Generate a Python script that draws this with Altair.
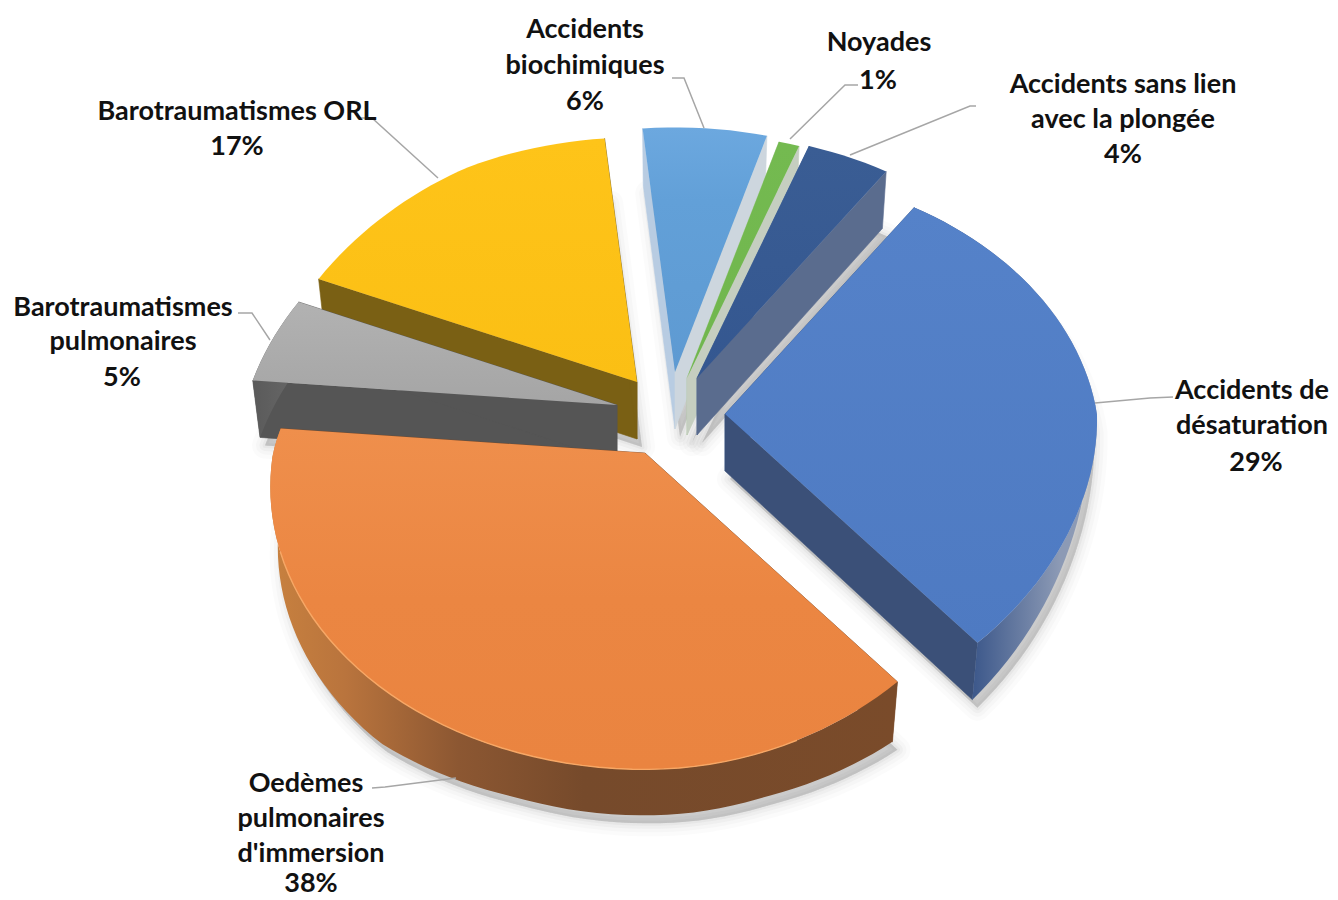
import math
import altair as alt
import pandas as pd

# ---- chart values
categories = ["Accidents sans lien avec la plongée", "Accidents de désaturation",
              "Oedèmes pulmonaires d'immersion", "Barotraumatismes pulmonaires",
              "Barotraumatismes ORL", "Accidents biochimiques", "Noyades"]
shares = [4, 29, 38, 5, 17, 6, 1]   # percent, clockwise
label_lines = [
    ["Accidents sans lien", "avec la plongée", "4%"],
    ["Accidents de", "désaturation", "29%"],
    ["Oedèmes", "pulmonaires", "d'immersion", "38%"],
    ["Barotraumatismes", "pulmonaires", "5%"],
    ["Barotraumatismes ORL", "17%"],
    ["Accidents", "biochimiques", "6%"],
    ["Noyades", "1%"],
]

# ---- layout and style (image pixels)
W, H = 1322, 892
START = 70.4          # clockwise start angle of the first slice
RX, RY, K = 372, 274, 0.12
DEPTH = 57
apex = {0: (697, 378), 1: (725, 414), 2: (645, 453), 3: (617, 405), 4: (637, 382), 5: (675, 372), 6: (687, 378)}
label_pos = {
    0: [(1123, 85), (1123, 120), (1123, 155)],
    1: [(1252, 391), (1252, 426), (1256, 463)],
    2: [(306, 784), (311, 819), (311, 854), (311, 884)],
    3: [(123, 308), (123, 342), (122, 378)],
    4: [(237, 112), (237, 147)],
    5: [(585, 30), (585, 66), (585, 102)],
    6: [(879, 43), (878, 81)],
}
leaders = {
    0: [(850, 155), (970, 106), (976, 106)],
    1: [(1095, 403), (1150, 398), (1173, 397)],
    2: [(456, 778), (385, 787), (372, 788)],
    3: [(270, 340), (252, 313), (238, 313)],
    4: [(438, 178), (372, 118), (360, 118)],
    5: [(704, 128), (684, 78), (672, 78)],
    6: [(790, 139), (845, 85), (858, 85)],
}
top_fill = {
    0: [(0, "#3A5D94"), (1, "#345790")],
    1: [(0, "#5582C9"), (1, "#4E7AC2")],
    2: [(0, "#EF8F4C"), (0.5, "#EB8642"), (1, "#EA8440")],
    3: [(0, "#B2B2B2"), (1, "#A5A5A5")],
    4: [(0, "#FEC419"), (1, "#FBBF14")],
    5: [(0, "#6CA8DF"), (0.3, "#62A0D8"), (1, "#5E9AD2")],
    6: [(0, "#74BA50"), (1, "#70B64E")],
}
start_wall = {0: "#3A5C92", 1: "#3A5C92", 2: "#7A4A28", 3: "#555555", 4: "#7A6014", 5: "#B8CCE2", 6: "#A6CB96"}
end_wall = {0: "#5A6C8E", 1: "#3B5078", 2: "#7A4A28", 3: "#555555", 4: "#7A6014", 5: "#CDD6DE", 6: "#C5CEC0"}
rim = {
    1: [(0, "#2F4C80"), (0.35, "#3F5A8C"), (0.8, "#8C9AB5"), (1, "#8C9AB5")],
    2: [(0, "#C8813F"), (0.12, "#B9743D"), (0.3, "#8C5732"), (0.5, "#764A2B"), (1, "#7A4B2A")],
    3: [(0, "#5A5A5A"), (1, "#6A6A6A")],
}
draw_order = [4, 3, 5, 6, 0, 1, 2]

x_scale = alt.Scale(domain=[8, 8 + W], nice=False, zero=False)
y_scale = alt.Scale(domain=[8 + H, 8], nice=False, zero=False)


def project(i, t):
    u, v = math.cos(math.radians(t)), math.sin(math.radians(t))
    d = 1 + K * v
    ax, ay = apex[i]
    x = ax + RX * u / d - 38 * max(0, u) * max(0, -v) + 49 * max(0, -u - 0.5) * max(0, v)
    y = ay - RY * v / d + 5 * max(0, -v)
    return x, y


def rim_depth(i, t):
    v = math.sin(math.radians(t))
    if i == 1:   # the rim thins towards the right of the blue slice
        return 10 + (DEPTH - 10) * min(1, max(0, -v) / 0.75)
    if i == 2:   # and towards the nearest point of the orange one
        return DEPTH + 3 - 14 * min(1, max(0, -v - 0.75) / 0.2)
    return DEPTH


def drop(i, p, depth=DEPTH):
    ax, _ = apex[i]
    return ax + 0.98 * (p[0] - ax), p[1] + depth


def shape(points, **mark):
    rows = [{"px": p[0], "py": p[1], "n": n} for n, p in enumerate(points)]
    return alt.Chart(pd.DataFrame(rows)).mark_line(**mark).encode(
        x=alt.X("px:Q", scale=x_scale, axis=None),
        y=alt.Y("py:Q", scale=y_scale, axis=None),
        order=alt.Order("n:Q"),
    )


def poly(points, fill, **mark):
    return shape(points, interpolate="linear-closed", fill=fill, stroke=fill if isinstance(fill, str) else "#00000000",
                 strokeWidth=0.6, **mark)


def grad(stops, vertical=False):
    return alt.Gradient(gradient="linear", x1=0, x2=0 if vertical else 1, y1=0, y2=1 if vertical else 0,
                        stops=[alt.GradientStop(offset=o, color=c) for o, c in stops])


layers = []
angles = {}
a = START
for i, s in enumerate(shares):
    angles[i] = (a, a - s * 3.6)
    a -= s * 3.6

for i in draw_order:
    t0, t1 = angles[i]
    steps = max(2, int(abs(t1 - t0) / 2))
    ts = [t0 + (t1 - t0) * n / steps for n in range(steps + 1)]
    arc = [project(i, t) for t in ts]
    A = apex[i]
    low = [drop(i, p, rim_depth(i, t)) for p, t in zip(arc, ts)]
    A2 = drop(i, A)
    # soft shadow
    outline = [A2] + low
    shifted = [(p[0] + 5, p[1] + 8) for p in outline]
    for sw, op in ((26, 0.03), (18, 0.04), (11, 0.05), (5, 0.06)):
        layers.append(shape(shifted, interpolate="linear-closed", stroke="#7F7F7F", strokeWidth=sw,
                            strokeOpacity=op, fill="#7F7F7F", fillOpacity=0.1, strokeJoin="round"))
    # radial walls and rim
    layers.append(poly([A, arc[0], low[0], A2], start_wall[i]))
    layers.append(poly([A, arc[-1], low[-1], A2], end_wall[i]))
    if i in rim:
        layers.append(poly(arc + low[::-1], grad(rim[i])))
    # top face
    layers.append(poly([A] + arc, grad(top_fill[i], vertical=True)))

# lit edge of the orange slice
t0, t1 = angles[2]
steps = 60
edge = [project(2, t0 + (t1 - t0) * n / steps) for n in range(steps + 1)]
layers.append(shape(edge[8:50], stroke="#F7A765", strokeWidth=1.4))

# leader lines
for i in leaders:
    layers.append(shape(leaders[i], stroke="#A6A6A6", strokeWidth=1.5))

# labels
rows = []
for i, lines in enumerate(label_lines):
    for line, (lx, ly) in zip(lines, label_pos[i]):
        rows.append({"line": line, "lx": lx, "ly": ly})
layers.append(
    alt.Chart(pd.DataFrame(rows)).mark_text(font="Lato", fontWeight="bold", fontSize=27, color="#111111",
                                            align="center", baseline="middle").encode(
        x=alt.X("lx:Q", scale=x_scale, axis=None),
        y=alt.Y("ly:Q", scale=y_scale, axis=None),
        text="line:N",
    )
)

chart = alt.layer(*layers).properties(width=W, height=H, padding=0, background="white",
                                      autosize=alt.AutoSizeParams(type="none")).configure_view(stroke=None)
chart.save("out.html", embed_options={"renderer": "svg", "actions": False})
